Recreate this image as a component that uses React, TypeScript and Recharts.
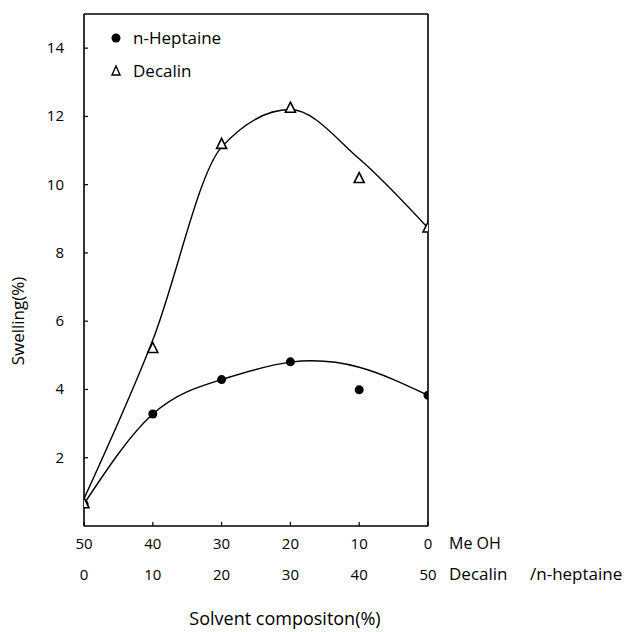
import { ComposedChart, Line, Scatter, XAxis, YAxis, ReferenceLine } from 'recharts';

// decalin share (%) along the x axis; MeOH share is 50 - decalin
const composition = [0, 10, 20, 30, 40, 50];
const meohLabels = ['50', '40', '30', '20', '10', '0'];
const decalinLabels = ['0', '10', '20', '30', '40', '50'];
const yTicks = [2, 4, 6, 8, 10, 12, 14];

// measured points
const heptaineMeasured = [0.65, 3.28, 4.29, 4.81, 3.99, 3.83];
const decalinMeasured = [0.65, 5.2, 11.18, 12.24, 10.18, 8.73];

// hand-drawn fitted curves
const heptaineCurve = [0.65, 3.28, 4.29, 4.8, 4.65, 3.83];
const decalinCurve = [0.8, 5.45, 11.1, 12.2, 10.76, 8.73];

const FONT = '"Open Sans", "DejaVu Sans", sans-serif';

const heptainePoints = composition.map((x, i) => ({ x, y: heptaineMeasured[i] }));
const decalinPoints = composition.map((x, i) => ({ x, y: decalinMeasured[i] }));
const heptaineLine = composition.map((x, i) => ({ x, y: heptaineCurve[i] }));
const decalinLine = composition.map((x, i) => ({ x, y: decalinCurve[i] }));

const Dot = (props: any) => {
    const { cx, cy } = props;
    return <circle cx={cx} cy={cy} r={4.5} fill="#000" />;
};

const Triangle = (props: any) => {
    const { cx, cy } = props;
    return (
        <path
            d={`M${cx},${cy - 6} L${cx + 5},${cy + 4} L${cx - 5},${cy + 4} Z`}
            fill="#fff"
            stroke="#000"
            strokeWidth={1.6}
        />
    );
};

const XTick = (props: any) => {
    const { x, y, payload } = props;
    const i = composition.indexOf(payload.value);
    const last = i === composition.length - 1;
    return (
        <g fontFamily={FONT} fill="#000">
            <line x1={x} y1={y} x2={x} y2={y - 4} stroke="#000" strokeWidth={1.2} />
            <text x={x} y={y + 23} textAnchor="middle" fontSize={15} fill="#000">{meohLabels[i]}</text>
            <text x={x} y={y + 54} textAnchor="middle" fontSize={15} fill="#000">{decalinLabels[i]}</text>
            {last && (
                <>
                    <text x={x + 21} y={y + 23} fontSize={16} fill="#000">Me OH</text>
                    <text x={x + 21} y={y + 54} fontSize={17} fill="#000">Decalin</text>
                    <text x={x + 102} y={y + 54} fontSize={17} fill="#000">/n-heptaine</text>
                    <text x={x - 143} y={y + 99} textAnchor="middle" fontSize={18} fill="#000">Solvent compositon(%)</text>
                </>
            )}
        </g>
    );
};

const YTick = (props: any) => {
    const { x, y, payload } = props;
    return (
        <g fontFamily={FONT} fontSize={15}>
            <line x1={x} y1={y} x2={x + 4} y2={y} stroke="#000" strokeWidth={1.2} />
            <text x={x - 20} y={y + 5} textAnchor="end" fill="#000">{payload.value}</text>
        </g>
    );
};

export default function App() {
    return (
        <div style={{ position: 'absolute', left: 0, top: 0, width: 626, height: 632, background: '#fff' }}>
            <ComposedChart width={626} height={632} margin={{ top: 14, right: 198, bottom: 0, left: 0 }}>
                <XAxis
                    dataKey="x"
                    type="number"
                    domain={[0, 50]}
                    ticks={composition}
                    tick={<XTick />}
                    tickLine={false}
                    tickSize={0}
                    tickMargin={0}
                    height={106}
                    stroke="#000"
                    strokeWidth={1.6}
                    allowDataOverflow
                />
                <YAxis
                    type="number"
                    domain={[0, 15]}
                    ticks={yTicks}
                    tick={<YTick />}
                    tickLine={false}
                    tickSize={0}
                    tickMargin={0}
                    width={84}
                    stroke="#000"
                    strokeWidth={1.6}
                    label={{
                        content: () => (
                            <text
                                x={24}
                                y={321}
                                transform="rotate(-90, 24, 321)"
                                textAnchor="middle"
                                fontFamily={FONT}
                                fontSize={17}
                                fill="#000"
                            >
                                Swelling(%)
                            </text>
                        ),
                    }}
                />
                <ReferenceLine y={15} stroke="#000" strokeWidth={1.6} />
                <ReferenceLine x={50} stroke="#000" strokeWidth={1.6} />
                <Line data={heptaineLine} dataKey="y" type="natural" stroke="#000" strokeWidth={1.4} dot={false} isAnimationActive={false} />
                <Line data={decalinLine} dataKey="y" type="monotone" stroke="#000" strokeWidth={1.4} dot={false} isAnimationActive={false} />
                <Scatter data={heptainePoints} dataKey="y" shape={<Dot />} isAnimationActive={false} />
                <Scatter data={decalinPoints} dataKey="y" shape={<Triangle />} isAnimationActive={false} />
            </ComposedChart>
            <div style={{ position: 'absolute', left: 108, top: 21, fontFamily: FONT, fontSize: 17, color: '#000', lineHeight: '33px' }}>
                <div style={{ display: 'flex', alignItems: 'center' }}>
                    <svg width={18} height={14}><circle cx={8} cy={7} r={4.5} fill="#000" /></svg>
                    <span style={{ marginLeft: 7 }}>n-Heptaine</span>
                </div>
                <div style={{ display: 'flex', alignItems: 'center' }}>
                    <svg width={18} height={14}><path d="M8,2 L12,11 L4,11 Z" fill="#fff" stroke="#000" strokeWidth={1.4} /></svg>
                    <span style={{ marginLeft: 7 }}>Decalin</span>
                </div>
            </div>
        </div>
    );
}
